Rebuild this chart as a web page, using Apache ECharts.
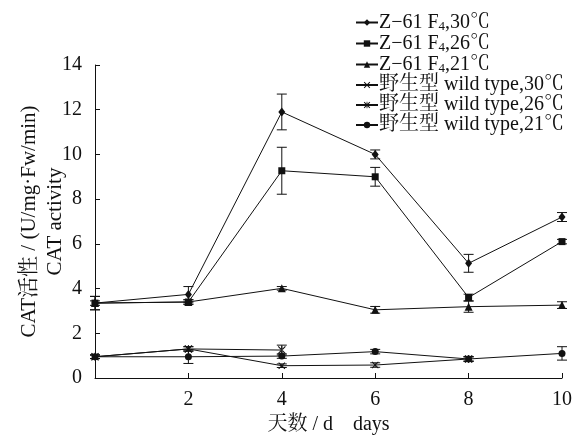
<!DOCTYPE html>
<html>
<head>
<meta charset="utf-8">
<script src="https://cdn.jsdelivr.net/npm/echarts@6/dist/echarts.min.js"></script>
<style>html,body{margin:0;padding:0;background:#fff}#c{width:577px;height:435px}</style>
</head>
<body>
<div id="c"></div>
<script>
const days = [0, 2, 4, 6, 8, 10];
const seriesNames = ['Z−61 F4,30℃', 'Z−61 F4,26℃', 'Z−61 F4,21℃', '野生型 wild type,30℃', '野生型 wild type,26℃', '野生型 wild type,21℃'];
const z30 = [3.35, 3.74, 11.9, 10.0, 5.13, 7.2];
const z30Err = [0.3, 0.35, 0.8, 0.2, 0.4, 0.2];
const z26 = [3.35, 3.4, 9.27, 9.0, 3.6, 6.1];
const z26Err = [0.3, 0.1, 1.05, 0.42, 0.15, 0.1];
const z21 = [3.35, 3.4, 4.01, 3.05, 3.19, 3.26];
const z21Err = [0.1, 0.1, 0.08, 0.15, 0.25, 0.15];
const w30 = [0.95, 1.3, 0.55, 0.58, 0.85, null];
const w30Err = [0.08, 0.1, 0.08, 0.1, 0.1, null];
const w26 = [0.95, 1.3, 1.25, null, 0.85, null];
const w26Err = [0.08, 0.1, 0.22, null, 0.1, null];
const w21 = [0.95, 0.95, 0.98, 1.18, 0.85, 1.1];
const w21Err = [0.08, 0.3, 0.1, 0.1, 0.1, 0.3];
const xTicks = [2, 4, 6, 8, 10];

const XPATH = 'path://M0,1L1,0L5,4L9,0L10,1L6,5L10,9L9,10L5,6L1,10L0,9L4,5Z';
const STARPATH = 'path://M0,1L1,0L5,4L9,0L10,1L6,5L10,9L9,10L5,6L1,10L0,9L4,5Z M4.4,0L4.4,10L5.6,10L5.6,0Z';
const symbols = [
  {symbol: 'diamond', size: [7, 9]},
  {symbol: 'rect', size: 7},
  {symbol: 'triangle', size: 8},
  {symbol: XPATH, size: 7},
  {symbol: STARPATH, size: 8},
  {symbol: 'circle', size: 7}
];
const vals = [z30, z26, z21, w30, w26, w21];
const errs = [z30Err, z26Err, z21Err, w30Err, w26Err, w21Err];
const INK = '#111';
const FONT = '"Liberation Serif", "Times New Roman", "Noto Serif CJK SC", "Noto Sans CJK SC", serif';

const series = [];
vals.forEach((v, i) => {
  series.push({
    name: seriesNames[i],
    type: 'line',
    data: days.map((d, k) => [d, v[k]]),
    symbol: symbols[i].symbol,
    symbolSize: symbols[i].size,
    showAllSymbol: true,
    connectNulls: false,
    lineStyle: {color: INK, width: 1},
    itemStyle: {color: INK, borderColor: INK, borderWidth: 0},
    z: 3
  });
  series.push({
    type: 'custom',
    silent: true,
    z: 2,
    data: days.map((d, k) => v[k] == null ? null : [d, v[k] - errs[i][k], v[k] + errs[i][k]]).filter(a => a),
    renderItem: function (params, api) {
      const x = api.value(0);
      const top = api.coord([x, api.value(2)]);
      const bot = api.coord([x, api.value(1)]);
      const w = 5;
      const st = {stroke: INK, lineWidth: 1};
      return {
        type: 'group',
        children: [
          {type: 'line', shape: {x1: top[0], y1: top[1], x2: bot[0], y2: bot[1]}, style: st},
          {type: 'line', shape: {x1: top[0] - w, y1: top[1], x2: top[0] + w, y2: top[1]}, style: st},
          {type: 'line', shape: {x1: bot[0] - w, y1: bot[1], x2: bot[0] + w, y2: bot[1]}, style: st}
        ]
      };
    }
  });
});

const chart = echarts.init(document.getElementById('c'));
chart.setOption({
  animation: false,
  backgroundColor: '#fff',
  textStyle: {fontFamily: FONT, color: INK},
  grid: {left: 95, right: 15, top: 65, bottom: 57, containLabel: false, outerBoundsMode: 'none'},
  legend: {
    data: seriesNames,
    orient: 'vertical',
    left: 350,
    top: 7,
    itemGap: 0,
    itemWidth: 22,
    itemHeight: 8,
    formatter: n => n.replace('F4', 'F{sub|4}'),
    textStyle: {
      fontFamily: FONT, fontSize: 20, lineHeight: 20, color: INK, padding: [0, 0, 0, -4],
      rich: {sub: {fontFamily: FONT, fontSize: 13, lineHeight: 20, color: INK, padding: [8, 0, 0, 0]}}
    }
  },
  xAxis: {
    type: 'value', min: 0, max: 10, interval: 2,
    name: '天数 / d    days', nameLocation: 'middle', nameGap: 37, nameMoveOverlap: false,
    nameTextStyle: {fontFamily: FONT, fontSize: 20, color: INK},
    axisLine: {lineStyle: {color: INK, width: 1}},
    axisTick: {inside: true, length: 5, lineStyle: {color: INK}},
    splitLine: {show: false},
    axisLabel: {
      fontFamily: FONT, fontSize: 20, color: INK, margin: 12,
      formatter: v => xTicks.indexOf(v) >= 0 ? String(v) : ''
    }
  },
  yAxis: {
    type: 'value', min: 0, max: 14, interval: 2,
    name: 'CAT活性 / (U/mg·Fw/min)\nCAT activity', nameLocation: 'middle', nameGap: 27, nameRotate: 90,
    nameMoveOverlap: false,
    nameTextStyle: {fontFamily: FONT, fontSize: 21, color: INK, lineHeight: 26},
    axisLine: {show: true, lineStyle: {color: INK, width: 1}},
    axisTick: {show: true, inside: true, length: 5, lineStyle: {color: INK}},
    splitLine: {show: false},
    axisLabel: {fontFamily: FONT, fontSize: 20, color: INK, margin: 13}
  },
  series: series
});
</script>
</body>
</html>
